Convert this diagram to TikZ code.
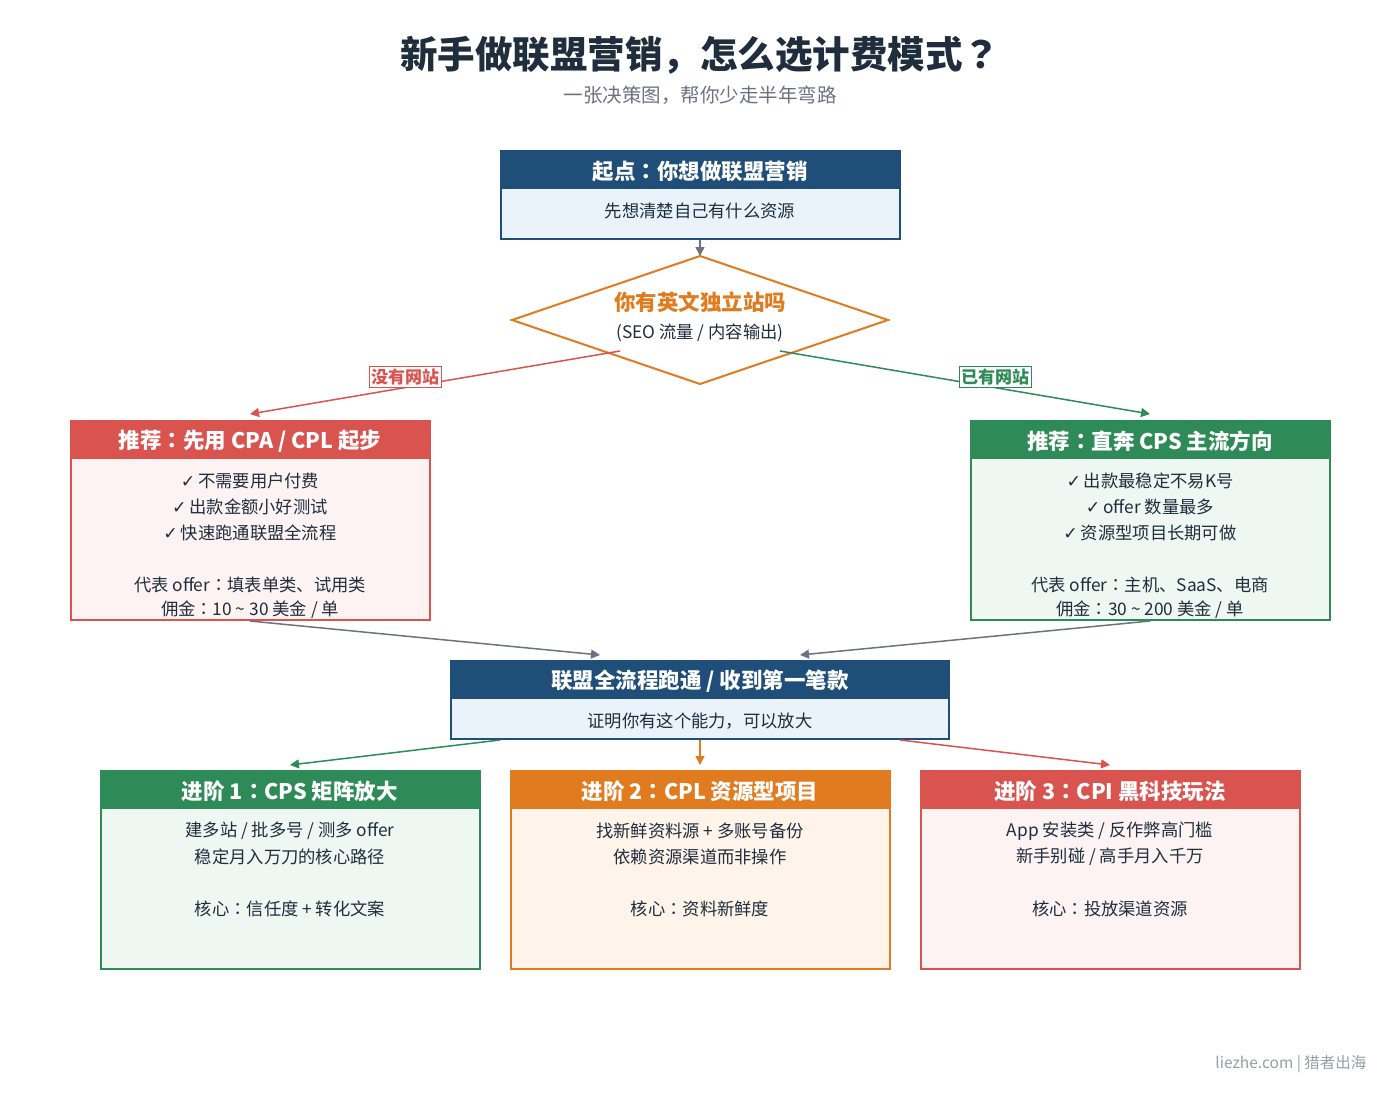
\documentclass[tikz,border=0pt]{standalone}
\usepackage{fontspec}
\setmainfont{Noto Sans CJK SC}
\newfontfamily\symf{DejaVu Sans}
\newfontfamily\jpf{Noto Sans CJK JP}
\usetikzlibrary{shapes.geometric,arrows.meta}
\definecolor{dblue}{HTML}{1F4E79}
\definecolor{lblue}{HTML}{EAF2FA}
\definecolor{cred}{HTML}{D9534F}
\definecolor{lred}{HTML}{FDF3F2}
\definecolor{cgreen}{HTML}{2E8B57}
\definecolor{lgreen}{HTML}{EEF7F1}
\definecolor{corange}{HTML}{E07B20}
\definecolor{lorange}{HTML}{FEF4EA}
\definecolor{cgray}{HTML}{6B7280}
\definecolor{ctitle}{HTML}{1F2D3D}
\newcommand{\ck}{{\symf\char"2713}\,}
\newcommand{\cc}{{\jpf ：}}
\newcommand{\qq}{{\jpf ？}}
\tikzset{
 hdr/.style={font=\bfseries\fontsize{21.5}{24}\selectfont,text=white},
 txt/.style={font=\fontsize{17.3}{20}\selectfont,text=ctitle},
 arr/.style={-{Triangle[length=9pt,width=9pt]},line width=1.5pt},
 lab/.style={draw=#1,fill=white,text=#1,font=\bfseries\fontsize{17}{20}\selectfont,inner sep=2pt,line width=1pt}
}
\newcommand{\cbox}[8]{% x1 y1 x2 y2 hy col light name
 \fill[#7] (#1,#2) rectangle (#3,#4);
 \fill[#6] (#1,#2) rectangle (#3,#5);
 \draw[#6,line width=2.5pt] (#1,#2) rectangle (#3,#4);
 \coordinate (#8) at ({(#1+#3)/2},#2);
}
\begin{document}
\begin{tikzpicture}[x=1pt,y=-1pt]
\useasboundingbox (0,0) rectangle (1400,1100);
\node[font=\bfseries\fontsize{37.5}{40}\selectfont,text=ctitle] (title) at (700,55) {新手做联盟营销，怎么选计费模式\qq};
\node[font=\fontsize{19.5}{22}\selectfont,text=cgray] (sub) at (700,95) {一张决策图，帮你少走半年弯路};
% start
\cbox{501}{151}{900}{239}{189}{dblue}{lblue}{st}
\node[hdr] (sth) at (700,171) {起点\cc 你想做联盟营销};
\node[txt] (stb) at (700,211) {先想清楚自己有什么资源};
% diamond
\draw[corange,fill=white,line width=2pt] (512,320) -- (700,256) -- (888,320) -- (700,384) -- cycle;
\coordinate (dtop) at (700,256);
\coordinate (dl) at (620,351);
\coordinate (dr) at (780,351);
\node[font=\bfseries\fontsize{21.5}{24}\selectfont,text=corange] (q) at (700,302) {你有英文独立站吗};
\node[txt] (q2) at (700,333) {(SEO 流量 / 内容输出)};
\coordinate (stbot) at (700,240);
\draw[arr,cgray] (stbot) -- (dtop);
% left
\cbox{71}{421}{430}{620}{459}{cred}{lred}{lt}
\node[hdr] (lh) at (250,441) {推荐\cc 先用 CPA / CPL 起步};
\node[txt] (lb) at (250,481) {\ck{}不需要用户付费};
\node[txt] at (250,507) {\ck{}出款金额小好测试};
\node[txt] at (250,533) {\ck{}快速跑通联盟全流程};
\node[txt] at (250,585) {代表 offer\cc 填表单类、试用类};
\node[txt] at (250,610) {佣金\cc 10 \char"7E{} 30 美金 / 单};
% right
\cbox{971}{421}{1330}{620}{459}{cgreen}{lgreen}{rt}
\node[hdr] (rh) at (1150,441) {推荐\cc 直奔 CPS 主流方向};
\node[txt] at (1150,481) {\ck{}出款最稳定不易K号};
\node[txt] at (1150,507) {\ck{}offer 数量最多};
\node[txt] at (1150,533) {\ck{}资源型项目长期可做};
\node[txt] at (1150,585) {代表 offer\cc 主机、SaaS、电商};
\node[txt] at (1150,610) {佣金\cc 30 \char"7E{} 200 美金 / 单};
\coordinate (ltt) at (250,414);
\coordinate (rtt) at (1150,414);
\draw[arr,cred] (dl) -- (ltt);
\draw[arr,cgreen] (dr) -- (rtt);
\node[lab=cred] (nl) at (405,377) {没有网站};
\node[lab=cgreen] (nr) at (995,377) {已有网站};
% middle
\cbox{451}{661}{949}{739}{699}{dblue}{lblue}{md}
\node[hdr] (mh) at (700,681) {联盟全流程跑通 / 收到第一笔款};
\node[txt] (mb) at (700,721) {证明你有这个能力，可以放大};
\coordinate (lbot) at (250,621);
\coordinate (rbot) at (1150,621);
\coordinate (ml) at (600,655);
\coordinate (mr) at (800,655);
\draw[arr,cgray] (lbot) -- (ml);
\draw[arr,cgray] (rbot) -- (mr);
% bottom
\cbox{101}{771}{480}{969}{809}{cgreen}{lgreen}{b1}
\cbox{511}{771}{890}{969}{809}{corange}{lorange}{b2}
\cbox{921}{771}{1300}{969}{809}{cred}{lred}{b3}
\node[hdr] at (290,791) {进阶 1\cc CPS 矩阵放大};
\node[txt] at (290,831) {建多站 / 批多号 / 测多 offer};
\node[txt] at (290,857) {稳定月入万刀的核心路径};
\node[txt] at (290,909) {核心\cc 信任度 + 转化文案};
\node[hdr] at (700,791) {进阶 2\cc CPL 资源型项目};
\node[txt] at (700,831) {找新鲜资料源 + 多账号备份};
\node[txt] at (700,857) {依赖资源渠道而非操作};
\node[txt] at (700,909) {核心\cc 资料新鲜度};
\node[hdr] at (1110,791) {进阶 3\cc CPI 黑科技玩法};
\node[txt] at (1110,831) {App 安装类 / 反作弊高门槛};
\node[txt] at (1110,857) {新手别碰 / 高手月入千万};
\node[txt] at (1110,909) {核心\cc 投放渠道资源};
\coordinate (m1) at (500,740);
\coordinate (m2) at (700,740);
\coordinate (m3) at (900,740);
\coordinate (t1) at (290,765);
\coordinate (t2) at (700,765);
\coordinate (t3) at (1110,765);
\draw[arr,cgreen] (m1) -- (t1);
\draw[arr,corange] (m2) -- (t2);
\draw[arr,cred] (m3) -- (t3);
\node[anchor=east,font=\fontsize{15.5}{18}\selectfont,text=cgray!70] (ft) at (1370,1064) {liezhe.com | 猎者出海};
\end{tikzpicture}
\end{document}
